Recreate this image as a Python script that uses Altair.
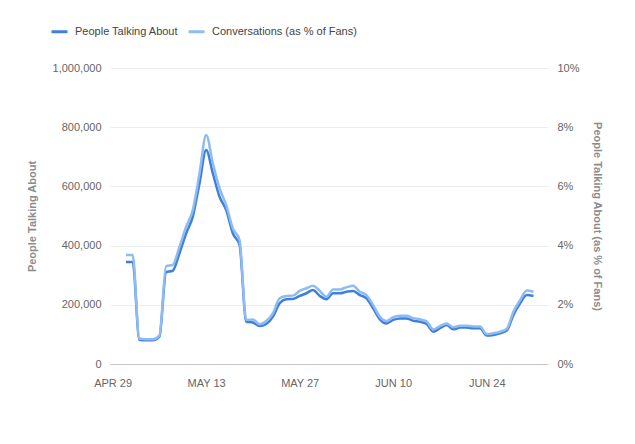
import altair as alt
import pandas as pd

# ---- data ----
start_date = "2013-05-01"
people_talking = [345000, 345000, 82000, 80000, 80000, 92000, 310000, 315000, 374000, 441000,
                  498000, 610000, 723000, 644000, 565000, 520000, 441000, 402000, 143000, 140000,
                  128000, 135000, 160000, 205000, 219000, 220000, 230000, 239000, 250000, 230000,
                  219000, 239000, 239000, 244000, 247000, 233000, 222000, 188000, 151000, 137000,
                  149000, 154000, 154000, 146000, 143000, 135000, 109000, 121000, 132000, 117000,
                  123000, 123000, 121000, 121000, 96000, 98000, 104000, 113000, 166000, 205000,
                  233000, 230000]
conversations_pct = [3.68, 3.68, 0.86, 0.84, 0.84, 0.96, 3.30, 3.35, 3.96, 4.64,
                     5.20, 6.44, 7.74, 6.78, 5.94, 5.37, 4.58, 4.19, 1.49, 1.50,
                     1.34, 1.45, 1.72, 2.22, 2.30, 2.31, 2.47, 2.56, 2.64, 2.47,
                     2.27, 2.52, 2.52, 2.59, 2.64, 2.44, 2.33, 1.99, 1.60, 1.45,
                     1.58, 1.63, 1.63, 1.55, 1.51, 1.44, 1.17, 1.28, 1.37, 1.24,
                     1.29, 1.29, 1.27, 1.27, 1.01, 1.04, 1.09, 1.19, 1.77, 2.16,
                     2.48, 2.44]
series_names = ["People Talking About", "Conversations (as % of Fans)"]
series_colors = ["#3f7fdf", "#8fbcf0"]
x_tick_dates = [(4, 29), (5, 13), (5, 27), (6, 10), (6, 24)]
left_ticks = [0, 200000, 400000, 600000, 800000, 1000000]
right_ticks = [0, 2, 4, 6, 8, 10]

dates = pd.date_range(start_date, periods=len(people_talking), freq="D").strftime("%Y-%m-%d")
df = pd.DataFrame({"date": list(dates), "ppl": people_talking, "pct": conversations_pct})

FONT = "Liberation Sans"

x_enc = alt.X(
    "date:T",
    scale=alt.Scale(
        type="utc",
        domain=[alt.DateTime(year=2013, month=4, date=28, hours=14, minutes=31, utc=True),
                alt.DateTime(year=2013, month=7, date=3, hours=4, minutes=5, utc=True)],
    ),
    axis=alt.Axis(
        values=[alt.DateTime(year=2013, month=m, date=d, utc=True) for m, d in x_tick_dates],
        labelExpr="upper(utcFormat(datum.value, '%b %d'))",
        title=None, grid=False, ticks=False, domain=True, domainColor="#c8c8c8",
        labelPadding=13, labelColor="#666666", labelFontSize=11, labelFont=FONT,
    ),
)

color_scale = alt.Scale(domain=series_names, range=series_colors)

left = alt.Chart(df).transform_calculate(series=f"'{series_names[0]}'").mark_line(
    interpolate="monotone", strokeWidth=2.5).encode(
    x=x_enc,
    y=alt.Y("ppl:Q", scale=alt.Scale(domain=[0, 1000000]),
            axis=alt.Axis(values=left_ticks, labelExpr="format(datum.value, ',.0f')",
                          title="People Talking About",
                          orient="left", grid=True, gridColor="#ececec", ticks=False, domain=False,
                          labelPadding=9, labelColor="#666666", labelFontSize=11, labelFont=FONT,
                          titleFont=FONT, titleFontSize=11, titleFontWeight="bold",
                          titleColor="#8c8c8c", titlePadding=15)),
    color=alt.Color("series:N", scale=color_scale,
                    legend=alt.Legend(title=None, orient="none", direction="horizontal",
                                      legendX=-60, legendY=-46, symbolType="stroke",
                                      symbolSize=256, symbolStrokeWidth=3, labelOffset=6,
                                      columnPadding=3, labelFont=FONT, labelFontSize=11,
                                      labelColor="#444444")),
)

right = alt.Chart(df).transform_calculate(series=f"'{series_names[1]}'").mark_line(
    interpolate="monotone", strokeWidth=2.5).encode(
    x=x_enc,
    y=alt.Y("pct:Q", scale=alt.Scale(domain=[0, 10]),
            axis=alt.Axis(values=right_ticks, labelExpr="datum.value + '%'",
                          title="People Talking About (as % of Fans)", orient="right",
                          grid=False, ticks=False, domain=False,
                          labelPadding=9, labelColor="#666666", labelFontSize=11, labelFont=FONT,
                          titleFont=FONT, titleFontSize=11, titleFontWeight="bold",
                          titleColor="#8c8c8c", titlePadding=12)),
    color=alt.Color("series:N", scale=color_scale),
)

chart = alt.layer(left, right).resolve_scale(y="independent").properties(
    width=438, height=296,
    background="white",
    autosize=alt.AutoSizeParams(type="none"),
    padding={"left": 110, "top": 68, "right": 87, "bottom": 80},
).configure_view(stroke="transparent", strokeWidth=0)

chart.save("out.html", embed_options={"renderer": "svg", "actions": False})
